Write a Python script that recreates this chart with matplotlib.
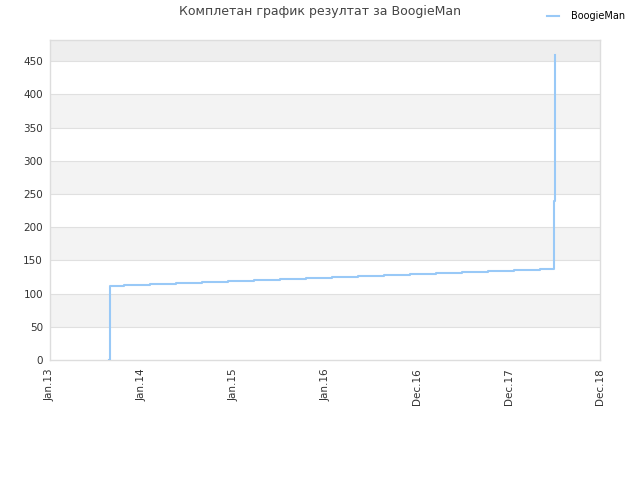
import matplotlib
matplotlib.use("Agg")
import matplotlib.pyplot as plt
import matplotlib.dates as mdates
import numpy as np
import datetime as dt


title = "Комплетан график резултат за BoogieMan"
series_name = "BoogieMan"

dates = [
    "2013-08-26", "2013-08-27", "2013-10-22", "2014-02-03", "2014-05-18",
    "2014-08-29", "2014-12-11", "2015-03-24", "2015-07-06", "2015-10-17",
    "2016-01-29", "2016-05-11", "2016-08-23", "2016-12-04", "2017-03-18",
    "2017-06-29", "2017-10-11", "2018-01-22", "2018-05-06", "2018-06-30",
    "2018-07-05",
]
scores = [
    0, 111, 113, 114, 116,
    117, 119, 120, 122, 123,
    125, 126, 128, 129, 131,
    132, 134, 135, 137, 239,
    459,
]

x_start = dt.date(2013, 1, 1)
x_end = dt.date(2018, 12, 31)
tick_dates = [dt.date(2013, 1, 1), dt.date(2014, 1, 1), dt.date(2015, 1, 1),
              dt.date(2016, 1, 1), dt.date(2016, 12, 31), dt.date(2017, 12, 31),
              dt.date(2018, 12, 31)]
y_ticks = [0, 50, 100, 150, 200, 250, 300, 350, 400, 450]
grey_bands = [(50, 100), (150, 200), (250, 300), (350, 400)]
top_band = (450, 500)

x = [dt.datetime.strptime(d, "%Y-%m-%d") for d in dates]

fig = plt.figure(figsize=(6.4, 4.8), dpi=100)
ax = fig.add_axes([0.078, 0.25, 0.86, 0.6667])

for lo, hi in grey_bands:
    ax.axhspan(lo, hi, color="#f3f3f3", zorder=0, lw=0)
ax.axhspan(top_band[0], top_band[1], color="#eeeeee", zorder=0, lw=0)
for yv in y_ticks[1:]:
    ax.axhline(yv, color="#e0e0e0", lw=0.8, zorder=1)

ax.plot(x, scores, drawstyle="steps-post", color="#99c9f7", lw=1.5,
        label=series_name, zorder=3)

ax.set_xlim(x_start, x_end)
ax.set_ylim(0, 482)
ax.set_xticks(tick_dates)
ax.xaxis.set_major_formatter(mdates.DateFormatter("%b.%y"))
ax.set_yticks(y_ticks)
ax.tick_params(axis="x", rotation=90, labelsize=7.5, colors="#333333", length=0, pad=6)
ax.tick_params(axis="y", labelsize=7.5, colors="#333333", length=0, pad=5)

for s in ax.spines.values():
    s.set_color("#dddddd")
    s.set_linewidth(1)

fig.text(0.5, 0.975, title, ha="center", va="center", fontsize=9, color="#444444")
leg = fig.legend(loc="upper right", bbox_to_anchor=(0.99, 0.995), frameon=False,
                 fontsize=7, handlelength=1.2, handletextpad=1.2)

fig.savefig("out.png", dpi=100)
